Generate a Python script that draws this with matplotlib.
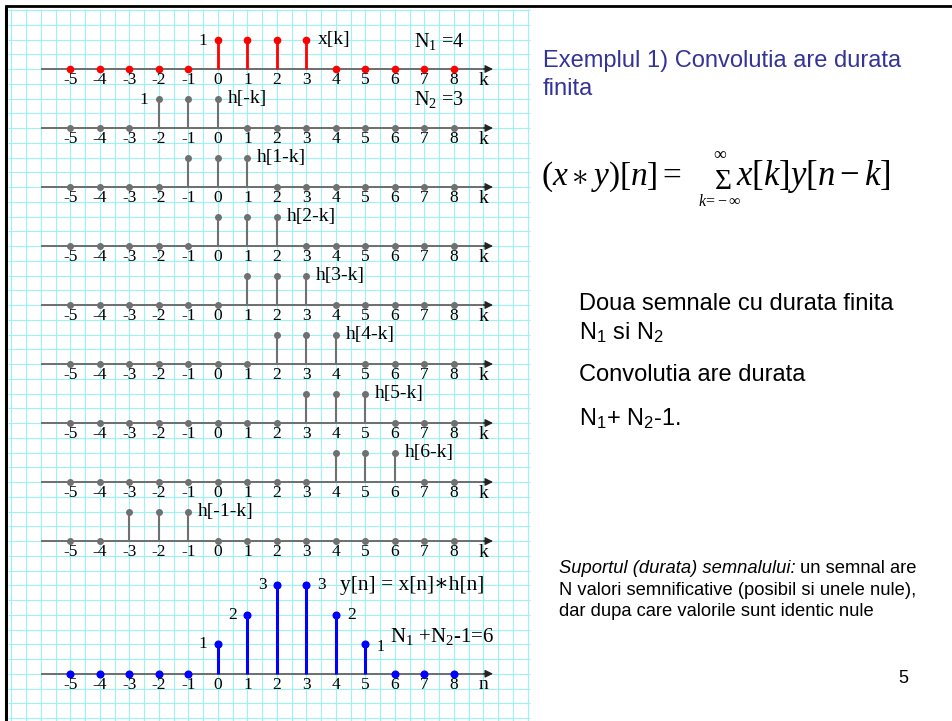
import numpy as np
import matplotlib
matplotlib.use('Agg')
import matplotlib.pyplot as plt

plt.rcParams['mathtext.fontset'] = 'custom'
plt.rcParams['mathtext.rm'] = 'Liberation Serif'
plt.rcParams['mathtext.it'] = 'Liberation Serif:italic'
plt.rcParams['mathtext.sf'] = 'Liberation Sans'

# sample index shared by every row
k = list(range(-5, 9))

# x[k], N1 = 4
x_k = [0, 0, 0, 0, 0, 1, 1, 1, 1, 0, 0, 0, 0, 0]

# flipped and shifted h, one row each (N2 = 3)
h_labels = ['h[-k]', 'h[1-k]', 'h[2-k]', 'h[3-k]', 'h[4-k]', 'h[5-k]', 'h[6-k]', 'h[-1-k]']
h_minus_k = [0, 0, 0, 1, 1, 1, 0, 0, 0, 0, 0, 0, 0, 0]
h_1_k = [0, 0, 0, 0, 1, 1, 1, 0, 0, 0, 0, 0, 0, 0]
h_2_k = [0, 0, 0, 0, 0, 1, 1, 1, 0, 0, 0, 0, 0, 0]
h_3_k = [0, 0, 0, 0, 0, 0, 1, 1, 1, 0, 0, 0, 0, 0]
h_4_k = [0, 0, 0, 0, 0, 0, 0, 1, 1, 1, 0, 0, 0, 0]
h_5_k = [0, 0, 0, 0, 0, 0, 0, 0, 1, 1, 1, 0, 0, 0]
h_6_k = [0, 0, 0, 0, 0, 0, 0, 0, 0, 1, 1, 1, 0, 0]
h_m1_k = [0, 0, 1, 1, 1, 0, 0, 0, 0, 0, 0, 0, 0, 0]
h_rows = [h_minus_k, h_1_k, h_2_k, h_3_k, h_4_k, h_5_k, h_6_k, h_m1_k]

# result of the convolution
y_n = [0, 0, 0, 0, 0, 1, 2, 3, 3, 2, 1, 0, 0, 0]

W, H = 953, 721
U = 29.5            # pixels per unit, both directions
X0, Y0 = 218, 673.75  # pixel position of k=0 on the bottom axis

RED = '#ff0000'
GRAY = '#707070'
BLUE = '#0000ff'
AXC = '#6e6e6e'
GRID = '#9ff2f2'
SERIF = ['Liberation Serif', 'DejaVu Serif']
SANS = ['Liberation Sans', 'DejaVu Sans']

fig = plt.figure(figsize=(W / 100, H / 100), dpi=100)
ax = fig.add_axes([0, 0, 1, 1])
ax.set_xlim(-X0 / U, (W - X0) / U)
ax.set_ylim((Y0 - H) / U, Y0 / U)
ax.axis('off')


def px2x(px):
    return (px - X0) / U


def py2y(py):
    return (Y0 - py) / U


# graph paper
gx = np.arange(-7, 10.51, 0.5)
gy = np.arange(-1.5, 22.51, 0.5)
ax.vlines(gx, py2y(H), py2y(9), color=GRID, lw=0.8, zorder=0)
ax.hlines(gy, px2x(8), px2x(530), color=GRID, lw=0.8, zorder=0)

# slide frame
ax.plot([px2x(5), px2x(W)], [py2y(6), py2y(6)], color='black', lw=2, solid_capstyle='butt')
ax.plot([px2x(6), px2x(6)], [py2y(5), py2y(H)], color='black', lw=2.2, solid_capstyle='butt')


def draw_row(vals, base, color, stem_lw, msize, axis_name='k'):
    ax.hlines(base, -6.0, 9.1, color=AXC, lw=1.4, zorder=1)
    ax.annotate('', xy=(9.32, base), xytext=(9.0, base),
                arrowprops=dict(arrowstyle='-|>', color='#222222', lw=0.8,
                                mutation_scale=12, shrinkA=0, shrinkB=0))
    vals = np.asarray(vals, dtype=float)
    markers, stems, baseline = ax.stem(k, base + vals, bottom=base)
    baseline.set_visible(False)
    stems.set_color(color)
    stems.set_linewidth(stem_lw)
    stems.set_zorder(2)
    markers.set_color(color)
    markers.set_markersize(msize)
    markers.set_zorder(3)
    for kk in k:
        ax.text(kk, base - 0.38, str(kk), ha='center', va='center',
                fontsize=12.5, family=SERIF)
    ax.text(9.0, base - 0.38, axis_name, ha='center', va='center',
            fontsize=14, family=SERIF)


# x[k]
base = 20.5
draw_row(x_k, base, RED, 2.0, 4.5)
ax.text(3 + 0.37, base + 1.0, 'x[k]', ha='left', va='center', fontsize=14, family=SERIF)
ax.text(0 - 0.5, base + 0.95, '1', ha='center', va='center', fontsize=12.5, family=SERIF)
ax.text(px2x(414), base + 0.92, r'$\mathrm{N}_1$ =4', ha='left', va='center',
        fontsize=14.5, family=SERIF)

# h rows
for i, (lab, vals) in enumerate(zip(h_labels, h_rows)):
    base = 18.5 - 2 * i
    draw_row(vals, base, GRAY, 1.5, 4.0)
    nz = [kk for kk, v in zip(k, vals) if v]
    ax.text(nz[-1] + 0.33, base + 1.0, lab, ha='left', va='center',
            fontsize=14, family=SERIF)
    if i == 0:
        ax.text(nz[0] - 0.5, base + 0.95, '1', ha='center', va='center',
                fontsize=12.5, family=SERIF)
        ax.text(px2x(414), base + 0.95, r'$\mathrm{N}_2$ =3', ha='left',
                va='center', fontsize=14.5, family=SERIF)

# y[n]
draw_row(y_n, 0.0, BLUE, 2.2, 4.8, axis_name='n')
for kk, v in zip(k, y_n):
    if v:
        dx = -0.5 if kk <= 2 else 0.52
        dy = -0.1 if kk == 5 else 0.0
        ax.text(kk + dx, v + dy, str(v), ha='center', va='center',
                fontsize=11.5 if kk == 5 else 12.5, family=SERIF)
ax.text(px2x(340), 3.0, 'y[n] = x[n]\u2217h[n]', ha='left', va='center',
        fontsize=15.5, family=SERIF)
ax.text(px2x(390), 1.25, r'$\mathrm{N}_1$ +$\mathrm{N}_2$-1=6', ha='left',
        va='center', fontsize=15, family=SERIF)


# right side text
def ft(px, py, s, **kw):
    return fig.text(px / W, 1 - py / H, s, va='baseline', **kw)


ft(543, 67, 'Exemplul 1) Convolutia are durata', fontsize=17, color='#333399', family=SANS)
ft(543, 95, 'finita', fontsize=17, color='#333399', family=SANS)

ft(541, 185, r'$(x\ast y)[n]=$', fontsize=24)
ft(723, 189, '\u03a3', fontsize=21, family=SERIF, ha='center')
ft(720, 158, r'$\infty$', fontsize=13, ha='center')
ft(720, 206, r'$k\!=\!-\infty$', fontsize=11.5, ha='center')
ft(736, 185, r'$x[k]y[n-k]$', fontsize=25)

ft(579, 310, 'Doua semnale cu durata finita', fontsize=17, family=SANS)
ft(579, 340, r'N$_\mathsf{1}$ si N$_\mathsf{2}$', fontsize=17, family=SANS)
ft(579, 381, 'Convolutia are durata', fontsize=17, family=SANS)
ft(579, 426, r'N$_\mathsf{1}$+ N$_\mathsf{2}$-1.', fontsize=17, family=SANS)

t = ft(559, 573, 'Suportul (durata) semnalului:', fontsize=13.2, family=SANS, style='italic')
fig.canvas.draw()
bb = t.get_window_extent(renderer=fig.canvas.get_renderer())
ft(bb.x1 + 4, 573, 'un semnal are', fontsize=13.2, family=SANS)
ft(559, 595, 'N valori semnificative (posibil si unele nule),', fontsize=13.2, family=SANS)
ft(559, 616, 'dar dupa care valorile sunt identic nule', fontsize=13.2, family=SANS)
ft(898, 683, '5', fontsize=13, family=SANS)

fig.savefig('out.png', dpi=100)
